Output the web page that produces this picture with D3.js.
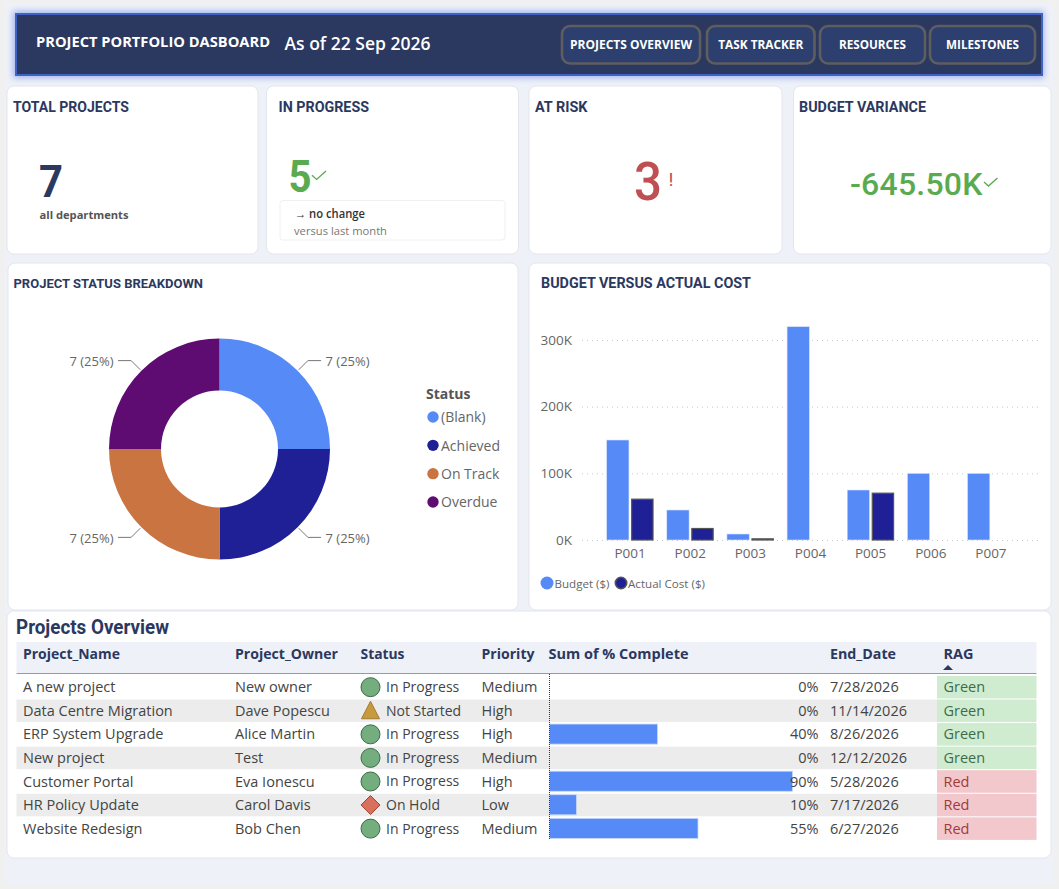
<!DOCTYPE html>
<html>
<head>
<meta charset="utf-8">
<script src="https://cdn.jsdelivr.net/npm/d3@7"></script>
<style>
  html, body { margin: 0; padding: 0; background: #f0f0f0; overflow: hidden; }
  svg { display: block; }
  text { font-family: "Open Sans", sans-serif; }
  .din { font-family: Roboto, sans-serif; font-weight: 700; fill: #2b3860; }
</style>
</head>
<body>
<svg id="chart" width="1059" height="889"></svg>
<script>
// chart values
const projectIds = ['P001', 'P002', 'P003', 'P004', 'P005', 'P006', 'P007'];
const budget = [150, 45, 9, 320, 75, 100, 100];
const actualCost = [62, 18, 2.5, 0, 71, 0, 0];
const costTicks = [0, 100, 200, 300];
const costSeries = ['Budget ($)', 'Actual Cost ($)'];

const statusLabels = ['(Blank)', 'Achieved', 'On Track', 'Overdue'];
const statusValues = [7, 7, 7, 7];
const statusColors = ['#568af7', '#1f2096', '#ca7442', '#5e0c72'];

const navLabels = ['PROJECTS OVERVIEW', 'TASK TRACKER', 'RESOURCES', 'MILESTONES'];

const tableHeaders = ['Project_Name', 'Project_Owner', 'Status', 'Priority', 'Sum of % Complete', 'End_Date', 'RAG'];
const projectNames = ['A new project', 'Data Centre Migration', 'ERP System Upgrade', 'New project', 'Customer Portal', 'HR Policy Update', 'Website Redesign'];
const projectOwners = ['New owner', 'Dave Popescu', 'Alice Martin', 'Test', 'Eva Ionescu', 'Carol Davis', 'Bob Chen'];
const projectStatus = ['In Progress', 'Not Started', 'In Progress', 'In Progress', 'In Progress', 'On Hold', 'In Progress'];
const projectPriority = ['Medium', 'High', 'High', 'Medium', 'High', 'Low', 'Medium'];
const percentComplete = [0, 0, 40, 0, 90, 10, 55];
const endDates = ['7/28/2026', '11/14/2026', '8/26/2026', '12/12/2026', '5/28/2026', '7/17/2026', '6/27/2026'];
const ragValues = ['Green', 'Green', 'Green', 'Green', 'Red', 'Red', 'Red'];

const navy = '#2b3860';
const green = '#5aaa50';
const svg = d3.select('#chart');

// small helpers
const rect = (g, x0, y0, x1, y1, fill, rx = 0) => g.append('rect')
  .attr('x', x0).attr('y', y0).attr('width', x1 - x0).attr('height', y1 - y0)
  .attr('rx', rx).attr('fill', fill);

const label = (g, x, y, str, size, fill = '#333', anchor = 'start', weight = 400) => g.append('text')
  .attr('x', x).attr('y', y).attr('dy', '.35em')
  .attr('font-size', size).attr('fill', fill).attr('font-weight', weight)
  .attr('text-anchor', anchor).text(str);

const din = (g, x, y, str, size, width) => g.append('text')
  .attr('class', 'din')
  .attr('x', x).attr('y', y).attr('dy', '.35em')
  .attr('font-size', size)
  .attr('textLength', width).attr('lengthAdjust', 'spacingAndGlyphs')
  .text(str);

const check = (g, x, y, w, color) => g.append('path')
  .attr('d', `M${x},${y + w * 0.3} L${x + w * 0.33},${y + w * 0.6} L${x + w},${y}`)
  .attr('fill', 'none').attr('stroke', color).attr('stroke-width', 1.3);

// page background
rect(svg, 5, 3, 1053, 883, '#eef1f7');

// header band
const defs = svg.append('defs');
defs.append('filter').attr('id', 'glow').attr('x', '-5%').attr('y', '-30%').attr('width', '110%').attr('height', '160%')
  .append('feGaussianBlur').attr('stdDeviation', 3);
rect(svg, 13, 11, 1044, 78, '#8fa6ee').attr('filter', 'url(#glow)').attr('opacity', 0.8);
rect(svg, 16, 14, 1042, 75, navy).attr('stroke', '#3f63c4').attr('stroke-width', 2);
label(svg, 36, 42.5, 'PROJECT PORTFOLIO DASBOARD', 14.2, '#fff', 'start', 700)
  .attr('textLength', 234).attr('lengthAdjust', 'spacingAndGlyphs');
label(svg, 284.5, 43.5, 'As of 22 Sep 2026', 17.5, '#fff', 'start', 600)
  .attr('textLength', 146).attr('lengthAdjust', 'spacingAndGlyphs');

const navEdges = [[562, 700], [707, 814.5], [820, 925], [930, 1035]];
const navWidths = [122, 85, 67, 73];
navLabels.forEach((d, i) => {
  const [x0, x1] = navEdges[i];
  rect(svg, x0, 26, x1, 63.5, '#2c3f6e', 8).attr('stroke', '#5e5e5e').attr('stroke-width', 2.6);
  label(svg, (x0 + x1) / 2, 44.5, d, 11.5, '#fff', 'middle', 700)
    .attr('textLength', navWidths[i]).attr('lengthAdjust', 'spacingAndGlyphs');
});

// cards
const cards = [[7, 86, 258, 254], [266.5, 86, 518.5, 254], [529, 86, 782, 254], [793.5, 86, 1051, 254],
  [8, 263, 518, 610], [529, 263, 1051, 610], [7, 611, 1051, 858]];
cards.forEach(c => rect(svg, c[0], c[1], c[2], c[3], '#fff', 7).attr('stroke', '#e3e6ec').attr('stroke-width', 1));

// KPI cards
din(svg, 13, 107, 'TOTAL PROJECTS', 14.5, 116);
din(svg, 278.5, 107, 'IN PROGRESS', 14.5, 90.5);
din(svg, 535, 107, 'AT RISK', 14.5, 52.5);
din(svg, 799, 107, 'BUDGET VARIANCE', 14.5, 127);

din(svg, 39, 181, '7', 45, 24);
label(svg, 39.5, 215, 'all departments', 11, '#555', 'start', 700).attr('textLength', 89).attr('lengthAdjust', 'spacingAndGlyphs');

din(svg, 288.5, 176, '5', 45, 23).style('fill', green);
check(svg, 312, 171, 14, green);
rect(svg, 280, 200.5, 505, 240, '#fff', 3).attr('stroke', '#f0f0f0');
label(svg, 295, 214, '→ no change', 12, '#333', 'start', 600).attr('textLength', 70).attr('lengthAdjust', 'spacingAndGlyphs');
label(svg, 294, 231, 'versus last month', 11, '#777').attr('textLength', 93).attr('lengthAdjust', 'spacingAndGlyphs');

din(svg, 634, 181, '3', 54, 28).style('fill', '#bf4f52').style('font-weight', 500);
din(svg, 668.5, 180, '!', 18, 5).style('fill', '#bf4f52').style('font-weight', 400);

din(svg, 850, 184, '-645.50K', 32, 132.5).style('fill', green).style('font-weight', 500).attr('lengthAdjust', 'spacing');
check(svg, 984, 178, 13.5, green);

// donut
din(svg, 13.5, 283, 'PROJECT STATUS BREAKDOWN', 13.5, 189.5);
const donut = svg.append('g').attr('transform', 'translate(219.5,449)');
const pie = d3.pie().sort(null);
const arc = d3.arc().innerRadius(58.5).outerRadius(110.5);
const slices = pie(statusValues);
donut.selectAll('path.slice').data(slices).enter().append('path')
  .attr('class', 'slice')
  .attr('d', arc)
  .attr('fill', (d, i) => statusColors[i]);

// leader lines and value labels come from the slice mid angles
const share = d3.format('.0%');
const total = d3.sum(statusValues);
slices.forEach(d => {
  const mid = (d.startAngle + d.endAngle) / 2;
  const side = Math.sin(mid) > 0 ? 1 : -1;
  const sx = Math.sin(mid) * 112, sy = -Math.cos(mid) * 112;
  const ex = Math.sin(mid) * 125, ey = -Math.cos(mid) * 125;
  donut.append('polyline')
    .attr('points', [[sx, sy], [ex, ey], [side * 101.5, ey]].join(' '))
    .attr('fill', 'none').attr('stroke', '#777').attr('stroke-width', 1);
  label(donut, side * 106, ey + 1, `${d.value} (${share(d.value / total)})`, 13, '#666', side > 0 ? 'start' : 'end');
});

// donut legend
label(svg, 426, 394, 'Status', 14, '#555', 'start', 700);
const legendY = d3.scalePoint().domain(statusLabels).range([417, 502]);
statusLabels.forEach((d, i) => {
  svg.append('circle').attr('cx', 433).attr('cy', legendY(d)).attr('r', 5.7).attr('fill', statusColors[i]);
  label(svg, 441, legendY(d) + 0.5, d, 14, '#666');
});

// bar chart
din(svg, 541, 283, 'BUDGET VERSUS ACTUAL COST', 14.5, 210);
const y = d3.scaleLinear().domain([0, 300]).range([540, 340]);
const x0 = d3.scaleBand().domain(projectIds).range([600, 1021]);
const x1 = d3.scaleBand().domain(costSeries).range([0, x0.bandwidth()]).paddingInner(0.09).paddingOuter(0.27);

const yAxis = svg.append('g').attr('transform', 'translate(582,0)')
  .call(d3.axisLeft(y).tickValues(costTicks).tickFormat(d => `${d}K`).tickSize(-458).tickPadding(10));
yAxis.select('.domain').remove();
yAxis.selectAll('line').attr('stroke', '#c8c8c8').attr('stroke-dasharray', '1 4');
yAxis.selectAll('text').attr('font-size', 13.5).attr('fill', '#666').style('font-family', '"Open Sans", sans-serif');

const xAxis = svg.append('g').attr('transform', 'translate(0,540)')
  .call(d3.axisBottom(x0).tickSize(0).tickPadding(8));
xAxis.select('.domain').remove();
xAxis.selectAll('text').attr('font-size', 13.5).attr('fill', '#666').style('font-family', '"Open Sans", sans-serif');

const barRows = projectIds.map((id, i) => ({ id, values: [budget[i], actualCost[i]] }));
const barGroups = svg.selectAll('g.bars').data(barRows).enter().append('g')
  .attr('class', 'bars')
  .attr('transform', d => `translate(${x0(d.id)},0)`);
barGroups.selectAll('rect').data(d => d.values.map((v, i) => ({ v, s: costSeries[i], i })))
  .enter().filter(d => d.v > 0).append('rect')
  .attr('x', d => x1(d.s) + (d.i ? 0.5 : 0))
  .attr('y', d => y(d.v) + (d.i ? 0.5 : 0))
  .attr('width', d => x1.bandwidth() - (d.i ? 1 : 0))
  .attr('height', d => y(0) - y(d.v) - (d.i ? 0.5 : 0))
  .attr('fill', d => d.i ? '#1f2096' : '#568af7')
  .attr('stroke', d => d.i ? '#555' : '#dbe5fd')
  .attr('stroke-width', d => d.i ? 1.2 : 0.6);

// bar legend
svg.append('circle').attr('cx', 547).attr('cy', 583).attr('r', 6.5).attr('fill', '#568af7');
label(svg, 554.5, 583.5, costSeries[0], 11.5, '#666').attr('textLength', 55).attr('lengthAdjust', 'spacingAndGlyphs');
svg.append('circle').attr('cx', 621).attr('cy', 583).attr('r', 5.7).attr('fill', '#1f2096').attr('stroke', '#555').attr('stroke-width', 1.6);
label(svg, 628, 583.5, costSeries[1], 11.5, '#666').attr('textLength', 77).attr('lengthAdjust', 'spacingAndGlyphs');

// table
din(svg, 16, 627, 'Projects Overview', 20, 153);
rect(svg, 16.5, 642, 1036.5, 673, '#eef1f7');
svg.append('line').attr('x1', 16.5).attr('x2', 1036.5).attr('y1', 673.5).attr('y2', 673.5).attr('stroke', '#7d9ce0');

const headerX = [23, 235, 360.5, 481.5, 548.5, 830, 943.5];
const headerWidths = [97, 103, 44, 53, 140, 66, 30];
tableHeaders.forEach((d, i) => {
  label(svg, headerX[i], 654, d, 14, navy, 'start', 700)
    .attr('textLength', headerWidths[i]).attr('lengthAdjust', 'spacingAndGlyphs');
});
svg.append('path').attr('d', 'M943,670 L948,665 L953,670 Z').attr('fill', navy);

const rowY = d3.scaleBand().domain(d3.range(projectNames.length)).range([675.4, 840.4]);
const barX = d3.scaleLinear().domain([0, 90]).range([549.5, 792.5]);

const rows = svg.selectAll('g.row').data(projectNames).enter().append('g')
  .attr('class', 'row')
  .attr('transform', (d, i) => `translate(0,${rowY(i)})`);
const rh = rowY.bandwidth();
rows.each(function (d, i) {
  const g = d3.select(this);
  const mid = rh / 2;
  if (i % 2) rect(g, 16.5, 0.5, 937, rh - 0.5, '#ececec');
  const isGreen = ragValues[i] === 'Green';
  rect(g, 937, 0.5, 1036.5, rh - 0.5, isGreen ? '#d0ecd0' : '#f2c8cd');

  label(g, 23, mid, d, 14.5, '#444');
  label(g, 235, mid, projectOwners[i], 14.5, '#444');
  label(g, 386, mid, projectStatus[i], 14, '#444');
  label(g, 481.5, mid, projectPriority[i], 14.5, '#444');

  // status icon
  const icon = g.append('g').attr('transform', `translate(370.5,${mid})`);
  if (projectStatus[i] === 'Not Started') {
    icon.append('path').attr('d', 'M0,-9.5 L9,8 L-9,8 Z').attr('fill', '#c89a3e').attr('stroke', '#a07a30');
  } else if (projectStatus[i] === 'On Hold') {
    icon.append('path').attr('d', 'M0,-9.5 L9.5,0 L0,9.5 L-9.5,0 Z').attr('fill', '#d9705e').attr('stroke', '#a8402f');
  } else {
    icon.append('circle').attr('r', 9.5).attr('fill', '#74ad7e').attr('stroke', '#3d6b48');
  }

  // data bar
  if (percentComplete[i] > 0) {
    rect(g, barX(0), 1.5, barX(percentComplete[i]), rh - 2, '#568af7').attr('stroke', '#c9d8fb').attr('stroke-width', 0.8);
  }
  label(g, 818.5, mid, `${percentComplete[i]}%`, 14.5, '#444', 'end');
  label(g, 830, mid, endDates[i], 14.5, '#444');
  label(g, 943.5, mid, ragValues[i], 14.5, isGreen ? '#3f6b4a' : '#a33a3a');
});

// zero line of the data bars
svg.append('line').attr('x1', barX(0)).attr('x2', barX(0)).attr('y1', 674).attr('y2', 839)
  .attr('stroke', '#333').attr('stroke-width', 1).attr('stroke-dasharray', '1 1');
</script>
</body>
</html>
